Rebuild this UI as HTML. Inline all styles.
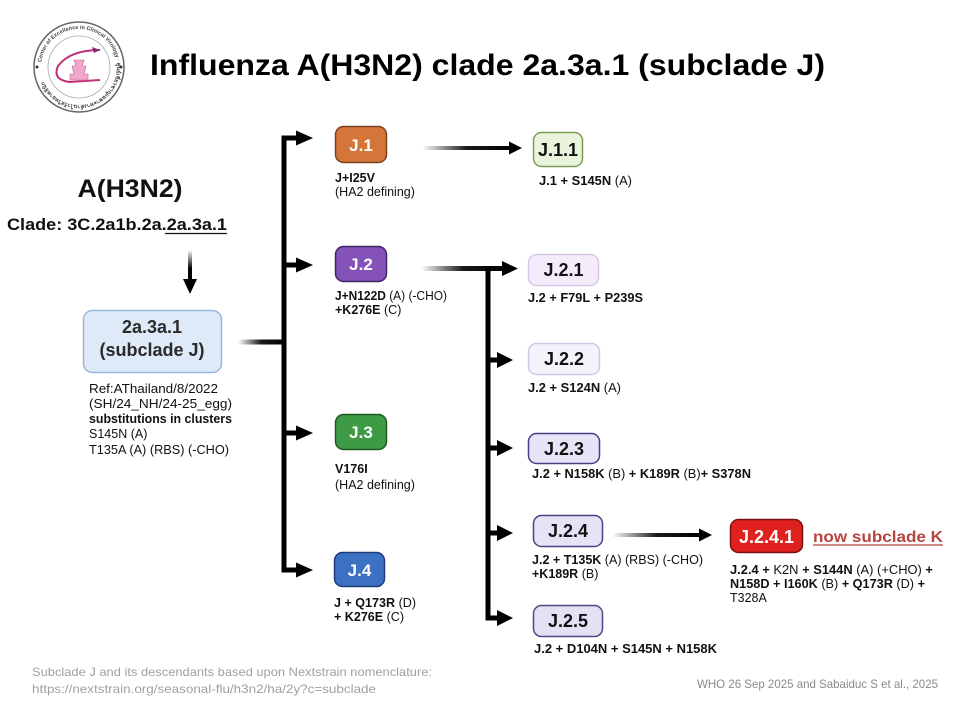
<!DOCTYPE html>
<html><head><meta charset="utf-8"><style>
html,body{margin:0;padding:0;background:#fff;}
svg{display:block;}
text{font-family:"Liberation Sans",Arial,sans-serif;}
.b{font-weight:bold;}
</style></head><body>
<svg width="960" height="720" viewBox="0 0 960 720" xmlns="http://www.w3.org/2000/svg">
<defs>
<linearGradient id="gh" x1="0" x2="1" y1="0" y2="0"><stop offset="0" stop-color="#000" stop-opacity="0"/><stop offset="0.5" stop-color="#000" stop-opacity="0.9"/><stop offset="1" stop-color="#000"/></linearGradient>
<linearGradient id="gv" x1="0" x2="0" y1="0" y2="1"><stop offset="0" stop-color="#000" stop-opacity="0"/><stop offset="0.6" stop-color="#000"/><stop offset="1" stop-color="#000"/></linearGradient>
<path id="circ" d="M 79 67 m -38 0 a 38 38 0 1 1 76 0 a 38 38 0 1 1 -76 0"/>
</defs>

<!-- Logo -->
<circle cx="79" cy="67" r="45" fill="#fff" stroke="#666" stroke-width="1.5"/>
<circle cx="79" cy="67" r="31" fill="#fff" stroke="#aaa" stroke-width="0.8"/>
<text font-size="5.5" fill="#444" font-weight="bold"><textPath href="#circ" startOffset="2%">Center of Excellence in Clinical Virology · ศูนย์เชี่ยวชาญเฉพาะทางด้านไวรัสวิทยาคลินิก</textPath></text>
<path d="M100 50 Q 70 50 58 66 Q 52 80 70 82 L 100 80" fill="none" stroke="#c2307a" stroke-width="2"/>
<path d="M100 50 L 92 47 L 94 53 Z" fill="#8a2a70"/>
<path d="M74 60 L 84 60 L 82 66 L 86 66 L 84 74 L 88 74 L 88 80 L 70 80 L 70 74 L 74 74 L 72 66 L 76 66 Z" fill="#f0a8c8" stroke="#d26090" stroke-width="0.6"/>
<circle cx="37" cy="67" r="1.5" fill="#333"/><circle cx="121" cy="67" r="1.5" fill="#333"/>

<!-- Title -->
<text x="150" y="75" font-size="30" class="b" fill="#000" textLength="675" lengthAdjust="spacingAndGlyphs">Influenza A(H3N2) clade 2a.3a.1 (subclade J)</text>

<!-- Left column -->
<text x="130" y="197" font-size="25" class="b" fill="#111" text-anchor="middle" textLength="105" lengthAdjust="spacingAndGlyphs">A(H3N2)</text>
<text x="7" y="230" font-size="17" class="b" fill="#111" textLength="220" lengthAdjust="spacingAndGlyphs">Clade: 3C.2a1b.2a.2a.3a.1</text>
<line x1="165" y1="233.5" x2="227" y2="233.5" stroke="#111" stroke-width="1.3"/>
<rect x="188" y="250" width="4" height="31" fill="url(#gv)"/>
<path d="M183 279 L197 279 L190 294 Z" fill="#000"/>

<rect x="83.5" y="310.5" width="138" height="62" rx="9" fill="#dfeaf8" stroke="#9ab5db" stroke-width="1.5"/>
<text x="152" y="333" font-size="18" class="b" fill="#2a2a2a" text-anchor="middle">2a.3a.1</text>
<text x="152" y="356" font-size="18" class="b" fill="#2a2a2a" text-anchor="middle">(subclade J)</text>

<g font-size="12.5" fill="#111">
<text x="89" y="393" textLength="129" lengthAdjust="spacingAndGlyphs">Ref:AThailand/8/2022</text>
<text x="89" y="408" textLength="143" lengthAdjust="spacingAndGlyphs">(SH/24_NH/24-25_egg)</text>
<text x="89" y="423" class="b" textLength="143" lengthAdjust="spacingAndGlyphs">substitutions in clusters</text>
<text x="89" y="438">S145N (A)</text>
<text x="89" y="454" textLength="140" lengthAdjust="spacingAndGlyphs">T135A (A) (RBS) (-CHO)</text>
</g>

<!-- connector from box to trunk -->
<rect x="238" y="339.5" width="47" height="5" fill="url(#gh)"/>
<!-- trunk 1 -->
<rect x="281.5" y="135.5" width="5" height="437" fill="#000"/>
<g fill="#000">
<rect x="281.5" y="135.5" width="17" height="5"/><path d="M296 130.5 L313 138 L296 145.5 Z"/>
<rect x="281.5" y="262.5" width="17" height="5"/><path d="M296 257.5 L313 265 L296 272.5 Z"/>
<rect x="281.5" y="430.5" width="17" height="5"/><path d="M296 425.5 L313 433 L296 440.5 Z"/>
<rect x="281.5" y="567.5" width="17" height="5"/><path d="M296 562.5 L313 570 L296 577.5 Z"/>
</g>

<!-- J.1 -->
<rect x="335.5" y="126.5" width="51" height="36" rx="8" fill="#d4763a" stroke="#7a4020" stroke-width="1.5"/>
<text x="361" y="151" font-size="17" class="b" fill="#fff" text-anchor="middle">J.1</text>
<text x="335" y="182" font-size="12.5" fill="#111"><tspan class="b">J+I25V</tspan></text>
<text x="335" y="196" font-size="12.5" fill="#111">(HA2 defining)</text>

<!-- J.1 -> J.1.1 -->
<rect x="422" y="146" width="90" height="4" fill="url(#gh)"/>
<path d="M509 141.5 L522 148 L509 154.5 Z" fill="#000"/>
<rect x="533.5" y="132.5" width="49" height="34" rx="8" fill="#eaf4dc" stroke="#7c9c52" stroke-width="1.5"/>
<text x="558" y="156" font-size="18" class="b" fill="#111" text-anchor="middle">J.1.1</text>
<text x="539" y="185" font-size="12.5" fill="#111" textLength="93" lengthAdjust="spacingAndGlyphs"><tspan class="b">J.1 + S145N</tspan> (A)</text>

<!-- J.2 -->
<rect x="335.5" y="246.5" width="51" height="35" rx="8" fill="#8553b8" stroke="#3f2468" stroke-width="1.5"/>
<text x="361" y="270" font-size="17" class="b" fill="#fff" text-anchor="middle">J.2</text>
<text x="335" y="300" font-size="12.5" fill="#111" textLength="112" lengthAdjust="spacingAndGlyphs"><tspan class="b">J+N122D</tspan> (A) (-CHO)</text>
<text x="335" y="314" font-size="12.5" fill="#111"><tspan class="b">+K276E</tspan> (C)</text>

<!-- J.2 -> J.2.x -->
<rect x="421" y="266" width="84" height="5" fill="url(#gh)"/>
<path d="M502 261 L518 268.5 L502 276 Z" fill="#000"/>
<rect x="485.5" y="266" width="5" height="354" fill="#000"/>
<g fill="#000">
<rect x="485.5" y="357.5" width="14" height="5"/><path d="M497 352 L513 360 L497 368 Z"/>
<rect x="485.5" y="445.5" width="14" height="5"/><path d="M497 440 L513 448 L497 456 Z"/>
<rect x="485.5" y="530.5" width="14" height="5"/><path d="M497 525 L513 533 L497 541 Z"/>
<rect x="485.5" y="615.5" width="14" height="5"/><path d="M497 610 L513 618 L497 626 Z"/>
</g>

<!-- J.2.1 -->
<rect x="528.5" y="254.5" width="70" height="31" rx="8" fill="#f4ecfb" stroke="#d8c8ea" stroke-width="1.5"/>
<text x="563.5" y="276" font-size="18" class="b" fill="#111" text-anchor="middle">J.2.1</text>
<text x="528" y="302" font-size="12.5" class="b" fill="#111" textLength="115" lengthAdjust="spacingAndGlyphs">J.2 + F79L + P239S</text>

<!-- J.2.2 -->
<rect x="528.5" y="343.5" width="71" height="31" rx="8" fill="#f5f2fb" stroke="#d0c8e6" stroke-width="1.5"/>
<text x="564" y="365" font-size="18" class="b" fill="#111" text-anchor="middle">J.2.2</text>
<text x="528" y="392" font-size="12.5" fill="#111" textLength="93" lengthAdjust="spacingAndGlyphs"><tspan class="b">J.2 + S124N</tspan> (A)</text>

<!-- J.2.3 -->
<rect x="528.5" y="433.5" width="71" height="30" rx="8" fill="#e7e4f7" stroke="#4b3d84" stroke-width="1.5"/>
<text x="564" y="455" font-size="18" class="b" fill="#111" text-anchor="middle">J.2.3</text>
<text x="532" y="478" font-size="12.5" fill="#111" textLength="219" lengthAdjust="spacingAndGlyphs"><tspan class="b">J.2 + N158K</tspan> (B) <tspan class="b">+ K189R</tspan> (B)<tspan class="b">+ S378N</tspan></text>

<!-- J.3 -->
<rect x="335.5" y="414.5" width="51" height="35" rx="8" fill="#3e9a44" stroke="#1f5a23" stroke-width="1.5"/>
<text x="361" y="438" font-size="17" class="b" fill="#fff" text-anchor="middle">J.3</text>
<text x="335" y="473" font-size="12.5" class="b" fill="#111">V176I</text>
<text x="335" y="489" font-size="12.5" fill="#111">(HA2 defining)</text>

<!-- J.4 -->
<rect x="334.5" y="552.5" width="50" height="34" rx="8" fill="#3b70c2" stroke="#1c3c7a" stroke-width="1.5"/>
<text x="359.5" y="576" font-size="17" class="b" fill="#fff" text-anchor="middle">J.4</text>
<text x="334" y="607" font-size="12.5" fill="#111" textLength="82" lengthAdjust="spacingAndGlyphs"><tspan class="b">J + Q173R</tspan> (D)</text>
<text x="334" y="621" font-size="12.5" fill="#111" textLength="70" lengthAdjust="spacingAndGlyphs"><tspan class="b">+ K276E</tspan> (C)</text>

<!-- J.2.4 -->
<rect x="533.5" y="515.5" width="69" height="31" rx="8" fill="#e6e3f7" stroke="#4b4282" stroke-width="1.5"/>
<text x="568" y="537" font-size="18" class="b" fill="#111" text-anchor="middle">J.2.4</text>
<text x="532" y="564" font-size="12.5" fill="#111" textLength="171" lengthAdjust="spacingAndGlyphs"><tspan class="b">J.2 + T135K</tspan> (A) (RBS) (-CHO)</text>
<text x="532" y="578" font-size="12.5" fill="#111"><tspan class="b">+K189R</tspan> (B)</text>

<!-- J.2.4 -> J.2.4.1 -->
<rect x="612" y="533" width="90" height="4" fill="url(#gh)"/>
<path d="M699 528.5 L712 535 L699 541.5 Z" fill="#000"/>
<rect x="730.5" y="519.5" width="72" height="33" rx="8" fill="#e0201c" stroke="#7a1010" stroke-width="1.5"/>
<text x="766.5" y="543" font-size="18" class="b" fill="#fff" text-anchor="middle">J.2.4.1</text>
<text x="813" y="542" font-size="16" class="b" fill="#b5443f" textLength="130" lengthAdjust="spacingAndGlyphs">now subclade K</text>
<line x1="813" y1="545" x2="943" y2="545" stroke="#b5443f" stroke-width="1.3"/>
<text x="730" y="574" font-size="12.5" fill="#111" textLength="203" lengthAdjust="spacingAndGlyphs"><tspan class="b">J.2.4 +</tspan> K2N <tspan class="b">+ S144N</tspan> (A) (+CHO) <tspan class="b">+</tspan></text>
<text x="730" y="588" font-size="12.5" fill="#111" textLength="195" lengthAdjust="spacingAndGlyphs"><tspan class="b">N158D + I160K</tspan> (B) <tspan class="b">+ Q173R</tspan> (D) <tspan class="b">+</tspan></text>
<text x="730" y="602" font-size="12.5" fill="#111">T328A</text>

<!-- J.2.5 -->
<rect x="533.5" y="605.5" width="69" height="31" rx="8" fill="#e3e2f5" stroke="#4d4a82" stroke-width="1.5"/>
<text x="568" y="627" font-size="18" class="b" fill="#111" text-anchor="middle">J.2.5</text>
<text x="534" y="653" font-size="12.5" class="b" fill="#111" textLength="183" lengthAdjust="spacingAndGlyphs">J.2 + D104N + S145N + N158K</text>

<!-- Footer -->
<text x="32" y="676" font-size="12" fill="#a0a0a0" textLength="400" lengthAdjust="spacingAndGlyphs">Subclade J and its descendants based upon Nextstrain nomenclature:</text>
<text x="32" y="693" font-size="12" fill="#a0a0a0" textLength="344" lengthAdjust="spacingAndGlyphs">https://nextstrain.org/seasonal-flu/h3n2/ha/2y?c=subclade</text>
<text x="697" y="688" font-size="12" fill="#8a8a8a" textLength="241" lengthAdjust="spacingAndGlyphs">WHO 26 Sep 2025 and Sabaiduc S et al., 2025</text>
</svg>
</body></html>
